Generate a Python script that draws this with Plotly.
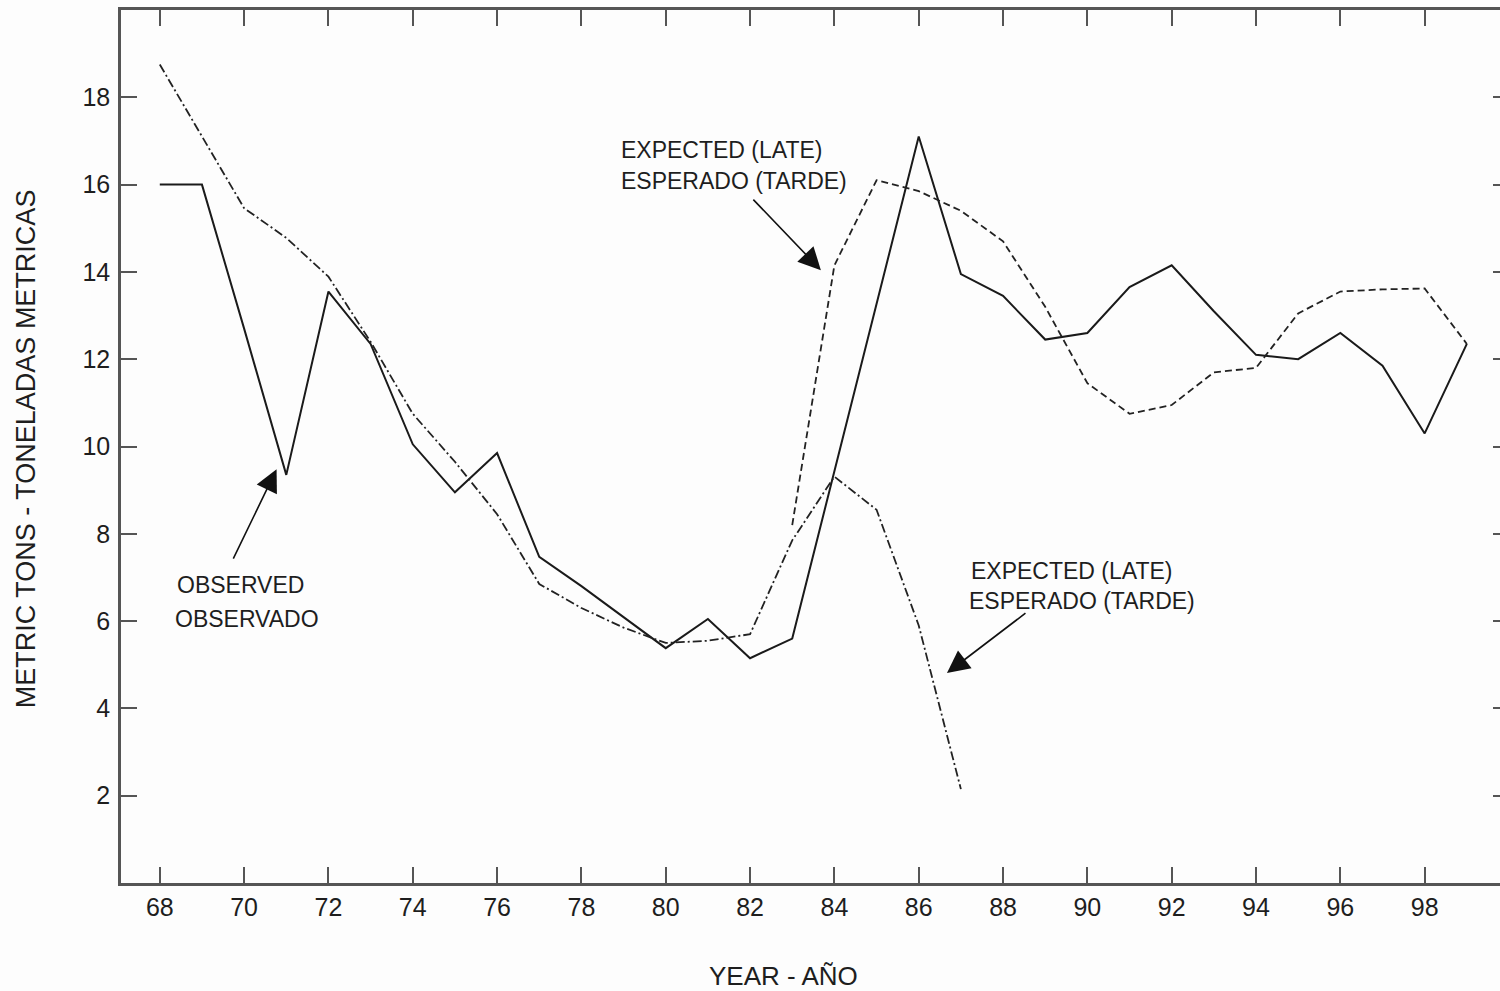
import plotly.graph_objects as go

# ---------------- data ----------------
years_observed = [68, 69, 70, 71, 72, 73, 74, 75, 76, 77, 78, 79, 80, 81, 82, 83,
                  84, 85, 86, 87, 88, 89, 90, 91, 92, 93, 94, 95, 96, 97, 98, 99]
observed = [16.0, 16.0, 12.7, 9.35, 13.55, 12.35, 10.05, 8.95, 9.85, 7.47, 6.8, 6.1,
            5.38, 6.05, 5.15, 5.6, 9.43, 13.25, 17.1, 13.95, 13.45, 12.45, 12.6, 13.65,
            14.15, 13.1, 12.1, 12.0, 12.6, 11.85, 10.3, 12.35]

years_late = [83, 84, 85, 86, 87, 88, 89, 90, 91, 92, 93, 94, 95, 96, 97, 98, 99]
expected_late = [8.2, 14.15, 16.1, 15.85, 15.4, 14.7, 13.2, 11.45, 10.75, 10.95, 11.7,
                 11.8, 13.05, 13.55, 13.6, 13.62, 12.35]

years_early = [68, 69, 70, 71, 72, 73, 74, 75, 76, 77, 78, 79, 80, 81, 82, 83, 84, 85, 86, 87]
expected_early = [18.75, 17.1, 15.46, 14.78, 13.89, 12.4, 10.75, 9.65, 8.45, 6.85, 6.3,
                  5.85, 5.5, 5.55, 5.7, 7.85, 9.31, 8.55, 5.9, 2.15]

x_ticks = [68, 70, 72, 74, 76, 78, 80, 82, 84, 86, 88, 90, 92, 94, 96, 98]
y_ticks = [2, 4, 6, 8, 10, 12, 14, 16, 18]

x_title = "YEAR - AÑO"
y_title = "METRIC TONS - TONELADAS METRICAS"
label_late = ["EXPECTED (LATE)", "ESPERADO (TARDE)"]
label_observed = ["OBSERVED", "OBSERVADO"]

# ---------------- layout geometry ----------------
# the plot frame runs slightly past the right edge of the 1500px window (as in the reference)
W, H = 1512, 991
L, R, T, B = 121, 0, 10, 108
PW, PH = W - L - R, H - T - B
FONT = "Liberation Sans, Arial, sans-serif"
INK = "#1e1e1e"


def px(xp):
    return (xp - L) / PW


def py(yp):
    return (H - B - yp) / PH


fig = go.Figure()
fig.add_trace(go.Scatter(x=years_observed, y=observed, mode="lines",
                         line=dict(color="#1a1a1a", width=2), showlegend=False))
fig.add_trace(go.Scatter(x=years_late, y=expected_late, mode="lines",
                         line=dict(color="#222222", width=1.8, dash="7px,4px"), showlegend=False))
fig.add_trace(go.Scatter(x=years_early, y=expected_early, mode="lines",
                         line=dict(color="#222222", width=1.8, dash="9px,3px,2px,3px"), showlegend=False))

annotations = []


def text_ann(txt, xl, yc):
    annotations.append(dict(text=txt, xref="paper", yref="paper", x=px(xl), y=py(yc),
                            xanchor="left", yanchor="middle", showarrow=False,
                            font=dict(family=FONT, size=23, color=INK)))


text_ann(label_late[0], 620, 150)
text_ann(label_late[1], 620, 181)
text_ann(label_observed[0], 175, 585)
text_ann(label_observed[1], 173, 619)
text_ann(label_late[0], 971, 571)
text_ann(label_late[1], 969, 601)


def arrow_ann(xd, yd, ax, ay):
    annotations.append(dict(text="", x=xd, y=yd, xref="x", yref="y", ax=ax, ay=ay,
                            showarrow=True, arrowhead=2, arrowsize=2.8, arrowwidth=1.6,
                            arrowcolor="#111111"))


arrow_ann(83.68, 14.04, -69, -72)
arrow_ann(70.77, 9.48, -44, 91)
arrow_ann(86.67, 4.81, 80, -61)

annotations.append(dict(text=x_title, xref="paper", yref="paper", x=px(785), y=py(976),
                        xanchor="center", yanchor="middle", showarrow=False,
                        font=dict(family=FONT, size=26, color=INK)))
annotations.append(dict(text=y_title, xref="paper", yref="paper", x=px(26), y=py(449),
                        xanchor="center", yanchor="middle", showarrow=False, textangle=-90,
                        font=dict(family=FONT, size=27, color=INK)))

fig.update_layout(
    width=W, height=H,
    margin=dict(l=L, r=R, t=T, b=B, pad=0),
    paper_bgcolor="#fdfdfd", plot_bgcolor="#fdfdfd",
    annotations=annotations,
    font=dict(family=FONT, size=25, color=INK),
)
fig.update_xaxes(range=[67.08, 100.0], tickvals=x_ticks, ticks="inside", ticklen=16,
                 tickwidth=2, tickcolor="#555555", showline=True, linecolor="#555555",
                 linewidth=2.5, mirror="ticks", showgrid=False, zeroline=False,
                 tickfont=dict(family=FONT, size=25, color=INK), ticklabelstandoff=0)
fig.update_yaxes(range=[0, 20], tickvals=y_ticks, ticks="inside", ticklen=16,
                 tickwidth=2, tickcolor="#555555", showline=True, linecolor="#555555",
                 linewidth=2.5, mirror="ticks", showgrid=False, zeroline=False,
                 tickfont=dict(family=FONT, size=25, color=INK), ticklabelstandoff=3)

fig.write_html("out.html", config={"displayModeBar": False},
               post_script="document.body.style.margin='0';document.body.style.overflow='hidden';")
